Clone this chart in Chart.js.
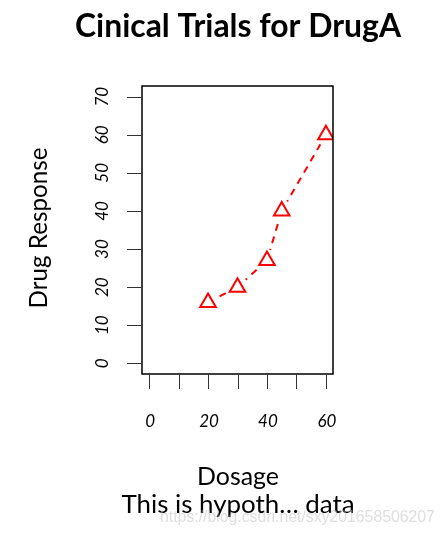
<!DOCTYPE html>
<html>
<head>
<meta charset="utf-8">
<script src="https://cdn.jsdelivr.net/npm/chart.js@4.4.1/dist/chart.umd.min.js"></script>
<style>
  html, body { margin: 0; padding: 0; background: #fff; }
  #wrap { width: 444px; height: 533px; position: relative; }
</style>
</head>
<body>
<div id="wrap"><canvas id="grafica"></canvas></div>
<script>
// datos
const dosis = [20, 30, 40, 45, 60];
const respuesta = [16, 20, 27, 40, 60];
const ticksX = [0, 10, 20, 30, 40, 50, 60];
const etiquetasX = [0, 20, 40, 60];
const ticksY = [0, 10, 20, 30, 40, 50, 60, 70];

const puntos = dosis.map((d, i) => ({ x: d, y: respuesta[i] }));
const FUENTE = 'Lato, "Open Sans", sans-serif';

// texto ajustado a un ancho dado
function textoAncho(ctx, txt, x, y, ancho, estilo, familia) {
    ctx.font = estilo + ' 20px ' + familia;
    const w = ctx.measureText(txt).width;
    const tam = 20 * ancho / w;
    ctx.font = estilo + ' ' + tam.toFixed(1) + 'px ' + familia;
    ctx.fillText(txt, x, y);
}

// marco, ejes y textos estilo R
const ejesR = {
    id: 'ejesR',
    afterDraw(chart) {
        const ctx = chart.ctx;
        const a = chart.chartArea;
        const sx = chart.scales.x;
        const sy = chart.scales.y;
        ctx.save();
        ctx.strokeStyle = '#000';
        ctx.lineWidth = 1.5;
        ctx.strokeRect(a.left, a.top, a.right - a.left, a.bottom - a.top);

        ctx.lineWidth = 1;
        ctx.strokeStyle = '#333';
        ticksX.forEach(v => {
            const px = Math.round(sx.getPixelForValue(v)) + 0.5;
            ctx.beginPath();
            ctx.moveTo(px, a.bottom);
            ctx.lineTo(px, a.bottom + 15);
            ctx.stroke();
        });
        ticksY.forEach(v => {
            const py = Math.round(sy.getPixelForValue(v)) + 0.5;
            ctx.beginPath();
            ctx.moveTo(a.left, py);
            ctx.lineTo(a.left - 15, py);
            ctx.stroke();
        });

        ctx.fillStyle = '#000';
        ctx.font = 'italic 17px ' + FUENTE;
        ctx.textAlign = 'center';
        ctx.textBaseline = 'alphabetic';
        etiquetasX.forEach(v => {
            ctx.fillText(String(v), sx.getPixelForValue(v) + 1, 427);
        });
        ticksY.forEach(v => {
            ctx.save();
            ctx.translate(108, sy.getPixelForValue(v));
            ctx.rotate(-Math.PI / 2);
            ctx.fillText(String(v), 0, 0);
            ctx.restore();
        });

        // titulos
        textoAncho(ctx, 'Cinical Trials for DrugA', 238, 37, 326, 'bold', FUENTE);
        textoAncho(ctx, 'Dosage', 238, 485, 82, 'normal', FUENTE);
        textoAncho(ctx, 'This is hypoth\u2026 data', 238, 513, 233, 'normal', FUENTE);
        ctx.save();
        ctx.translate(47, 228);
        ctx.rotate(-Math.PI / 2);
        textoAncho(ctx, 'Drug Response', 0, 0, 161, 'normal', FUENTE);
        ctx.restore();

        // marca de agua
        ctx.fillStyle = 'rgba(190,190,190,0.5)';
        ctx.textAlign = 'left';
        textoAncho(ctx, 'https://blog.csdn.net/sxy201658506207', 160, 522, 275, 'normal', '"Liberation Sans", Arial, sans-serif');
        ctx.restore();
    }
};

new Chart(document.getElementById('grafica'), {
    type: 'scatter',
    data: {
        datasets: [
            {
                // linea discontinua
                data: puntos,
                showLine: true,
                borderColor: '#ff0000',
                borderWidth: 2,
                borderDash: [7, 6],
                pointRadius: 0,
                order: 3
            },
            {
                // hueco blanco alrededor de cada punto (type = "b")
                data: puntos,
                showLine: false,
                pointRadius: 11,
                pointBackgroundColor: '#fff',
                pointBorderWidth: 0,
                pointBorderColor: '#fff',
                order: 2
            },
            {
                data: puntos,
                showLine: false,
                pointStyle: 'triangle',
                pointRadius: 9,
                pointBorderWidth: 2,
                pointBorderColor: '#ff0000',
                pointBackgroundColor: 'rgba(0,0,0,0)',
                order: 1
            }
        ]
    },
    options: {
        responsive: true,
        maintainAspectRatio: false,
        animation: false,
        layout: {
            padding: { left: 142, top: 86, right: 111, bottom: 159 }
        },
        plugins: {
            legend: { display: false },
            tooltip: { enabled: false }
        },
        scales: {
            x: { type: 'linear', display: false, min: -2.4, max: 62.4 },
            y: { type: 'linear', display: false, min: -2.8, max: 72.8 }
        }
    },
    plugins: [ejesR]
});
</script>
</body>
</html>
